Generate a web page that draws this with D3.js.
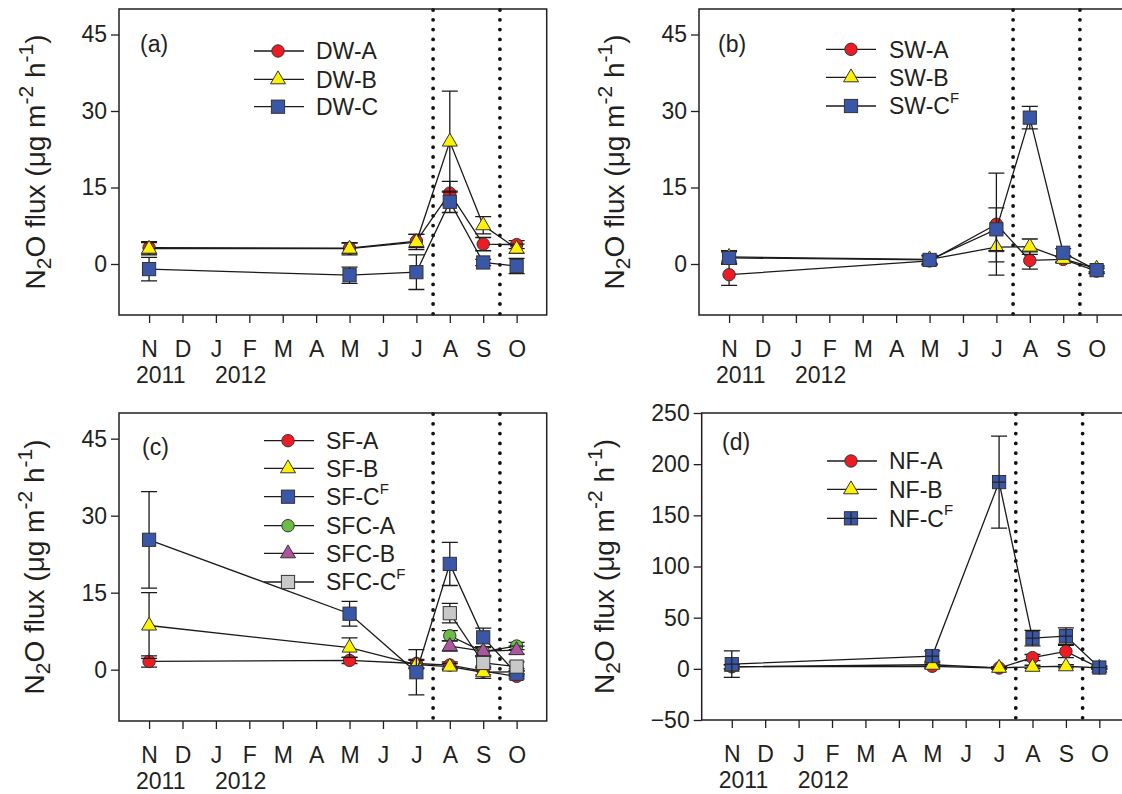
<!DOCTYPE html>
<html>
<head>
<meta charset="utf-8">
<script src="https://cdn.jsdelivr.net/npm/d3@7"></script>
<style>
  body { margin: 0; background: #fff; }
  svg text { font-family: "Liberation Sans", Arial, sans-serif; fill: #231f20; }
</style>
</head>
<body>
<div id="chart"></div>
<script>
// month axis and sampling dates
const months = ["N", "D", "J", "F", "M", "A", "M", "J", "J", "A", "S", "O"];
const yearLabels = ["2011", "2012"];
const yearPos = [0.35, 2.74];
const sampleMonths = [0, 6, 8, 9, 10, 11];
const sfcMonths = [9, 10, 11];
const dotLines = [8.5, 10.5];

const ticks45 = [0, 15, 30, 45];
const ticks250 = [-50, 0, 50, 100, 150, 200, 250];

// (a) DW
const dwA = [3.2, 3.1, 4.5, 13.9, 3.9, 3.8];
const dwAErr = [1.2, 1.0, 1.3, 2.3, 1.3, 0.8];
const dwB = [3.0, 3.0, 4.3, 24.0, 7.6, 3.0];
const dwBErr = [1.2, 1.2, 1.5, 9.9, 1.7, 0.9];
const dwC = [-1.0, -2.2, -1.6, 12.2, 0.3, -0.4];
const dwCErr = [2.3, 1.6, 3.4, 2.1, 0.6, 1.5];

// (b) SW
const swA = [-2.1, 0.6, 7.8, 0.7, 0.9, -1.4];
const swAErr = [2.1, 0.8, 10.0, 1.7, 0.6, 0.5];
const swB = [1.4, 0.9, 3.3, 3.4, 1.0, -0.9];
const swBErr = [1.2, 0.8, 2.9, 1.5, 0.6, 0.6];
const swC = [1.2, 0.8, 6.8, 28.7, 2.2, -1.2];
const swCErr = [1.2, 0.9, 4.2, 2.2, 0.8, 0.6];

// (c) SF and SFC
const sfA = [1.6, 1.8, 1.2, 0.9, -0.3, -1.3];
const sfAErr = [1.1, 0.6, 0.8, 0.6, 0.7, 0.5];
const sfB = [8.6, 4.3, 1.0, 0.6, -0.5, -0.4];
const sfBErr = [6.4, 1.9, 0.8, 0.6, 1.2, 0.6];
const sfC = [25.3, 10.9, -0.5, 20.6, 6.3, -0.8];
const sfCErr = [9.4, 2.4, 4.4, 4.2, 1.8, 0.6];
const sfcA = [6.6, 3.5, 4.6];
const sfcAErr = [1.0, 0.8, 0.7];
const sfcB = [4.6, 3.6, 3.8];
const sfcBErr = [1.0, 0.9, 0.8];
const sfcC = [11.0, 1.3, 0.6];
const sfcCErr = [1.9, 1.2, 0.9];

// (d) NF
const nfA = [2.0, 2.5, 0.8, 11.0, 17.0, 1.0];
const nfAErr = [2.0, 2.0, 1.0, 3.0, 6.0, 1.0];
const nfB = [2.0, 4.0, 1.0, 2.0, 2.5, 1.0];
const nfBErr = [2.0, 2.0, 1.0, 1.5, 1.5, 1.0];
const nfC = [4.6, 12.5, 182.5, 30.0, 32.0, 1.3];
const nfCErr = [13.0, 5.0, 45.0, 7.5, 8.0, 1.5];

const RED = "#ed1c24", YEL = "#fff200", BLUE = "#3a56a6",
      GREEN = "#6bbd45", MAG = "#ad55a0", GREY = "#c8c8c8";

const panels = [
  { tag: "(a)", left: 119, top: 9, bottom: 315, yDomain: [-10, 50], yTicks: ticks45,
    titleX: 45, tagX: 140, tagY: 52,
    legend: { x1: 254, x2: 304, mx: 278, tx: 316, rows: [51, 79.3, 106.7] },
    series: [
      { name: "DW-A", vals: dwA, err: dwAErr, m: sampleMonths, color: RED, shape: "circle" },
      { name: "DW-B", vals: dwB, err: dwBErr, m: sampleMonths, color: YEL, shape: "triangle" },
      { name: "DW-C", vals: dwC, err: dwCErr, m: sampleMonths, color: BLUE, shape: "square" }
    ] },
  { tag: "(b)", left: 699, top: 9, bottom: 315, yDomain: [-10, 50], yTicks: ticks45,
    titleX: 624, tagX: 718, tagY: 52,
    legend: { x1: 826, x2: 876, mx: 851, tx: 889, rows: [49.3, 77.3, 106] },
    series: [
      { name: "SW-A", vals: swA, err: swAErr, m: sampleMonths, color: RED, shape: "circle" },
      { name: "SW-B", vals: swB, err: swBErr, m: sampleMonths, color: YEL, shape: "triangle" },
      { name: "SW-C", sup: "F", vals: swC, err: swCErr, m: sampleMonths, color: BLUE, shape: "square" }
    ] },
  { tag: "(c)", left: 119, top: 413, bottom: 721, yDomain: [-10, 50], yTicks: ticks45,
    titleX: 44, tagX: 142, tagY: 455,
    legend: { x1: 264, x2: 314, mx: 288, tx: 326, rows: [440.7, 468.3, 496.7, 525.7, 553.3, 582] },
    series: [
      { name: "SF-A", vals: sfA, err: sfAErr, m: sampleMonths, color: RED, shape: "circle" },
      { name: "SF-B", vals: sfB, err: sfBErr, m: sampleMonths, color: YEL, shape: "triangle" },
      { name: "SF-C", sup: "F", vals: sfC, err: sfCErr, m: sampleMonths, color: BLUE, shape: "square" },
      { name: "SFC-A", vals: sfcA, err: sfcAErr, m: sfcMonths, color: GREEN, shape: "circle" },
      { name: "SFC-B", vals: sfcB, err: sfcBErr, m: sfcMonths, color: MAG, shape: "triangle" },
      { name: "SFC-C", sup: "F", vals: sfcC, err: sfcCErr, m: sfcMonths, color: GREY, shape: "square" }
    ] },
  { tag: "(d)", left: 701.7, top: 413, bottom: 720, yDomain: [-50, 250], yTicks: ticks250,
    titleX: 613.5, tagX: 722, tagY: 450,
    legend: { x1: 827, x2: 877, mx: 851, tx: 889, rows: [461, 489.3, 518.3] },
    series: [
      { name: "NF-A", vals: nfA, err: nfAErr, m: sampleMonths, color: RED, shape: "circle" },
      { name: "NF-B", vals: nfB, err: nfBErr, m: sampleMonths, color: YEL, shape: "triangle" },
      { name: "NF-C", sup: "F", vals: nfC, err: nfCErr, m: sampleMonths, color: BLUE, shape: "grid" }
    ] }
];

const INK = "#231f20";
const FS = 23;
const boxWidth = 427.7;

const svg = d3.select("#chart").append("svg")
    .attr("width", 1122)
    .attr("height", 794);

function drawMarker(g, shape, color, cx, cy) {
  let el;
  if (shape === "circle") {
    el = g.append("circle").attr("cx", cx).attr("cy", cy).attr("r", 6.2);
  } else if (shape === "triangle") {
    el = g.append("path").attr("d", `M${cx},${cy - 8.4}L${cx + 7.5},${cy + 4.5}L${cx - 7.5},${cy + 4.5}Z`);
  } else {
    el = g.append("rect").attr("x", cx - 6.6).attr("y", cy - 6.6).attr("width", 13.2).attr("height", 13.2);
  }
  el.attr("fill", color).attr("stroke", "#333").attr("stroke-width", 1);
  if (shape === "grid") {
    g.append("path")
      .attr("d", `M${cx},${cy - 6.6}V${cy + 6.6}M${cx - 6.6},${cy}H${cx + 6.6}`)
      .attr("stroke", "#222").attr("stroke-width", 1.2);
  }
}

function drawPanel(p) {
  const x = d3.scaleLinear().domain([-0.9, 11.9]).range([p.left, p.left + boxWidth]);
  const y = d3.scaleLinear().domain(p.yDomain).range([p.bottom, p.top]);
  const g = svg.append("g");

  // x axis
  g.append("g")
    .attr("transform", `translate(0,${p.bottom})`)
    .call(d3.axisBottom(x).tickValues(d3.range(12)).tickFormat(i => months[i])
      .tickSize(8).tickPadding(17.5))
    .call(a => a.select(".domain").remove())
    .call(a => a.selectAll("line").attr("stroke-width", 1.3))
    .attr("color", INK).attr("font-size", FS)
    .attr("font-family", "Liberation Sans, Arial, sans-serif");

  // year labels
  g.selectAll(".yr").data(yearLabels).enter().append("text")
    .attr("x", (d, i) => x(yearPos[i]))
    .attr("y", p.bottom + 68)
    .attr("text-anchor", "middle")
    .attr("font-size", FS)
    .text(d => d);

  // y axis
  g.append("g")
    .attr("transform", `translate(${p.left},0)`)
    .call(d3.axisLeft(y).tickValues(p.yTicks).tickSize(8).tickPadding(4))
    .call(a => a.select(".domain").remove())
    .call(a => a.selectAll("line").attr("stroke-width", 1.3))
    .attr("color", INK).attr("font-size", FS)
    .attr("font-family", "Liberation Sans, Arial, sans-serif");

  // y title
  const t = g.append("text")
    .attr("transform", `translate(${p.titleX},${(p.top + p.bottom) / 2}) rotate(-90)`)
    .attr("text-anchor", "middle")
    .attr("font-size", 28);
  t.append("tspan").text("N");
  t.append("tspan").attr("font-size", 21).attr("dy", 6).text("2");
  t.append("tspan").attr("dy", -6).text("O flux (\u03bcg m");
  t.append("tspan").attr("font-size", 21).attr("dy", -12).text("-2");
  t.append("tspan").attr("dy", 12).text(" h");
  t.append("tspan").attr("font-size", 21).attr("dy", -12).text("-1");
  t.append("tspan").attr("dy", 12).text(")");

  // dotted separators
  dotLines.forEach(v => {
    g.append("line")
      .attr("x1", x(v)).attr("x2", x(v))
      .attr("y1", p.top + 1).attr("y2", p.bottom)
      .attr("stroke", "#111").attr("stroke-width", 3.8)
      .attr("stroke-linecap", "round")
      .attr("stroke-dasharray", "0,9.8");
  });

  // frame
  g.append("rect")
    .attr("x", p.left).attr("y", p.top)
    .attr("width", boxWidth).attr("height", p.bottom - p.top)
    .attr("fill", "none").attr("stroke", INK).attr("stroke-width", 1.5);

  // series
  const line = d3.line();
  p.series.forEach(s => {
    const pts = s.vals.map((v, i) => [x(s.m[i]), y(v)]);
    g.append("path").attr("d", line(pts))
      .attr("fill", "none").attr("stroke", "#1a1a1a").attr("stroke-width", 1.3);
    s.vals.forEach((v, i) => {
      const cx = x(s.m[i]), y0 = y(v - s.err[i]), y1 = y(v + s.err[i]);
      g.append("path")
        .attr("d", `M${cx},${y0}V${y1}M${cx - 8},${y0}H${cx + 8}M${cx - 8},${y1}H${cx + 8}`)
        .attr("fill", "none").attr("stroke", "#1a1a1a").attr("stroke-width", 1.3);
    });
    s.vals.forEach((v, i) => drawMarker(g, s.shape, s.color, x(s.m[i]), y(v)));
  });

  // legend
  const L = p.legend;
  p.series.forEach((s, i) => {
    const ry = L.rows[i];
    g.append("line").attr("x1", L.x1).attr("x2", L.x2).attr("y1", ry).attr("y2", ry)
      .attr("stroke", "#1a1a1a").attr("stroke-width", 1.3);
    drawMarker(g, s.shape, s.color, L.mx, ry);
    const tx = g.append("text").attr("x", L.tx).attr("y", ry).attr("dy", "0.36em")
      .attr("font-size", FS).text(s.name);
    if (s.sup) tx.append("tspan").attr("font-size", 15).attr("dy", "-0.75em").text(s.sup);
  });

  // panel tag
  g.append("text").attr("x", p.tagX).attr("y", p.tagY).attr("font-size", FS).text(p.tag);
}

panels.forEach(drawPanel);
</script>
</body>
</html>
